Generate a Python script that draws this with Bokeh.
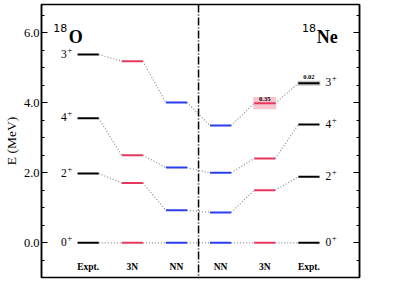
from bokeh.plotting import figure
from bokeh.models import Range1d, LinearAxis, Span, FixedTicker, PrintfTickFormatter
from bokeh.core.properties import value
from bokeh.embed import file_html
from bokeh.resources import INLINE

# ---- data ----
columns = ["Expt.", "3N", "NN", "NN", "3N", "Expt."]
col_pos = [1, 2, 3, 4, 5, 6]
col_colors = ["black", "#e8375f", "#2b3df0", "#2b3df0", "#e8375f", "black"]
spins = ["0", "2", "4", "3"]
parity = "+"
E_0 = [0.0, 0.0, 0.0, 0.0, 0.0, 0.0]
E_2 = [1.98, 1.71, 0.93, 0.87, 1.50, 1.89]
E_4 = [3.56, 2.50, 2.15, 2.00, 2.41, 3.38]
E_3 = [5.38, 5.19, 4.01, 3.35, 3.99, 4.56]
levels = [E_0, E_2, E_4, E_3]
# decay widths (MeV) for the 18Ne 3+ state: (column index, width)
width_cols = [4, 5]
width_vals = [0.35, 0.02]
width_text = ["0.35", "0.02"]
width_fill = ["#f7c4cf", "#c8c8c8"]
y_ticks = [0, 2, 4, 6]
y_minor = [-0.5, 0.5, 1.0, 1.5, 2.5, 3.0, 3.5, 4.5, 5.0, 5.5, 6.5]
nuclei_A = ["18", "18"]
nuclei_sym = ["O", "Ne"]

SERIF = "Liberation Serif"
hw = 0.24  # half width of a level line
label_lift = [0.06, 0.12]  # style: vertical lift of width labels

# ---- pixel helpers (frame ~40..367 x, 5..278 y in page px) ----
X0, X1 = -0.057, 7.146
Y0, Y1 = -0.99, 6.81
def px_x(px):
    return X0 + (px - 40) * (X1 - X0) / 327.0
def px_y(py):
    return Y0 + (278 - py) * (Y1 - Y0) / 273.0

p = figure(width=383, height=281, x_range=Range1d(X0, X1), y_range=Range1d(Y0, Y1),
           output_backend="svg", toolbar_location=None,
           min_border_left=32, min_border_right=24, min_border_top=4, min_border_bottom=4)
p.grid.visible = False
p.xaxis.visible = False
p.outline_line_color = "black"
p.outline_line_width = 1.5
p.outline_line_alpha = 1.0

ya = p.yaxis[0]
ya.ticker = FixedTicker(ticks=y_ticks, minor_ticks=y_minor)
ya.formatter = PrintfTickFormatter(format="%.1f")
ya.major_tick_in = 6
ya.major_tick_out = 0
ya.minor_tick_in = 3
ya.minor_tick_out = 0
ya.major_label_standoff = 2
ya.major_label_text_font = SERIF
ya.major_label_text_font_size = "12.5px"
ya.major_label_text_color = "black"
ya.axis_line_width = 1.5
ya.major_tick_line_width = 1.2
ya.minor_tick_line_width = 1.2
ya.axis_label = "E (MeV)"
ya.axis_label_text_font = SERIF
ya.axis_label_text_font_style = "normal"
ya.axis_label_text_font_size = "13.5px"
ya.axis_label_standoff = 2
ya.axis_label_text_color = "black"

ra = LinearAxis(ticker=FixedTicker(ticks=y_ticks, minor_ticks=y_minor),
                major_label_text_color=None, major_label_text_font_size="8px",
                major_tick_in=6, major_tick_out=0,
                minor_tick_in=3, minor_tick_out=0, axis_line_width=1.5,
                major_tick_line_width=1.2, minor_tick_line_width=1.2, major_label_standoff=0)
p.add_layout(ra, "right")

# width boxes
bx_l, bx_r, bx_b, bx_t = [], [], [], []
for ci, w in zip(width_cols, width_vals):
    e = E_3[ci]
    hh = max(w / 2.0, 0.07)
    bx_l.append(col_pos[ci] - hw - 0.02)
    bx_r.append(col_pos[ci] + hw + 0.02)
    bx_b.append(e - hh)
    bx_t.append(e + hh)
p.quad(left=bx_l, right=bx_r, bottom=bx_b, top=bx_t, fill_color=width_fill, line_color=None)

# connectors
cx0, cx1, cy0, cy1 = [], [], [], []
for lev in levels:
    for i in range(len(col_pos) - 1):
        cx0.append(col_pos[i] + hw)
        cx1.append(col_pos[i + 1] - hw)
        cy0.append(lev[i])
        cy1.append(lev[i + 1])
p.segment(x0=cx0, y0=cy0, x1=cx1, y1=cy1, line_color="#8c8c8c", line_width=1.2, line_dash="1 2")

# levels
lx0, lx1, ly, lc = [], [], [], []
for lev in levels:
    for i, x in enumerate(col_pos):
        lx0.append(x - hw)
        lx1.append(x + hw)
        ly.append(lev[i])
        lc.append(col_colors[i])
p.segment(x0=lx0, y0=ly, x1=lx1, y1=ly, line_color=lc, line_width=2)

# width labels
p.text(x=[col_pos[c] for c in width_cols], y=[E_3[c] + d for c, d in zip(width_cols, label_lift)],
       text=width_text, text_font=value(SERIF), text_font_style="bold", text_font_size="6.5px",
       text_align="center", text_baseline="bottom", text_color="black")

# state labels (spin + superscript parity)
for xs, ys, align in ((px_x(66), [lev[0] for lev in levels], "right"),
                      (px_x(332), [lev[-1] for lev in levels], "left")):
    p.text(x=[xs] * 4, y=ys, text=spins, text_font=value(SERIF),
           text_font_size="11.5px", text_align=align, text_baseline="middle", y_offset=-1,
           text_color="black")
sx_left = px_x(66.5)
sx_right = px_x(338.5)
p.text(x=[sx_left] * 4, y=[lev[0] for lev in levels], text=[parity] * 4, text_font=value(SERIF),
       text_font_size="9px", text_align="left", text_baseline="middle", y_offset=-5, text_color="black")
p.text(x=[sx_right] * 4, y=[lev[-1] for lev in levels], text=[parity] * 4, text_font=value(SERIF),
       text_font_size="9px", text_align="left", text_baseline="middle", y_offset=-5, text_color="black")

# column labels
p.text(x=col_pos, y=[px_y(267)] * 6, text=columns, text_font=value(SERIF), text_font_style="bold",
       text_font_size="9.5px", text_align="center", text_baseline="middle", text_color="black")

# divider
p.add_layout(Span(location=3.5, dimension="height", line_color="black", line_width=1.5,
                  line_dash="8 2 1 2"))

# nucleus labels
p.text(x=[px_x(52), px_x(308)], y=[px_y(28)] * 2, text=nuclei_A,
       text_font=value("DejaVu Sans"), text_font_size="11px", text_align="left",
       text_baseline="alphabetic", text_color="black")
p.text(x=[px_x(68), px_x(323)], y=[px_y(37)] * 2, text=nuclei_sym,
       text_font=value(SERIF), text_font_style="bold", text_font_size="18px", text_align="left",
       text_baseline="alphabetic", text_color="black")

open("out.html", "w").write(file_html(p, INLINE))
